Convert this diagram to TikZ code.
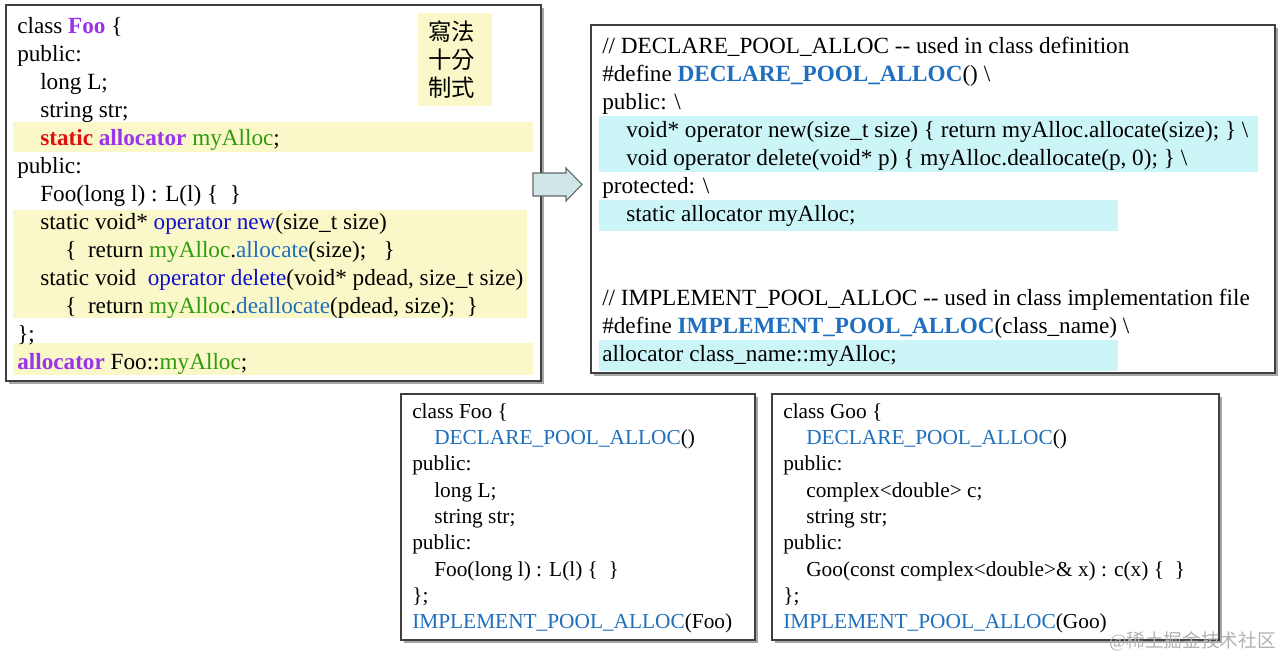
\documentclass[tikz,border=0pt]{standalone}
\usepackage{fontspec}
\setmainfont{Liberation Serif}
\newfontfamily\cjk{Noto Sans CJK TC}
\definecolor{hlY}{HTML}{FAF8C8}
\definecolor{hlC}{HTML}{CCF5F7}
\definecolor{cPur}{HTML}{9933EE}
\definecolor{cRed}{HTML}{E01010}
\definecolor{cGrn}{HTML}{2E9A10}
\definecolor{cOp}{HTML}{1010CC}
\definecolor{cBl}{HTML}{1F6FC0}
\definecolor{arr}{HTML}{CFE6E8}
\begin{document}
\begin{tikzpicture}[x=0.75pt,y=-0.75pt,
  t/.style={anchor=base west,inner sep=0pt,font=\fontsize{17.4}{20}\selectfont},
  ts/.style={anchor=base west,inner sep=0pt,font=\fontsize{16}{19}\selectfont},
  box/.style={draw=black!75,line width=1.2pt,fill=white},
  shadow/.style={fill=black!35,draw=none}]
\useasboundingbox (0,0) rectangle (1280,657);
% left box
\fill[shadow] (9,8) rectangle (544,384);
\draw[box] (6,5) rectangle (541,381);
\fill[hlY] (13,122) rectangle (533,152);
\fill[hlY] (13,210) rectangle (527,318);
\fill[hlY] (13,343) rectangle (533,375);
\fill[hlY] (418,13) rectangle (492,106);
\begin{scope}[every node/.style={anchor=base west,inner sep=0pt,font=\fontsize{17.5}{20}\selectfont}]
\node (c1) at (428,40) {\cjk 寫法};
\node (c2) at (428,68) {\cjk 十分};
\node (c3) at (428,96) {\cjk 制式};
\end{scope}
\node[t] (l1) at (17,33) {class \textcolor{cPur}{\textbf{Foo}} \{};
\node[t] (l2) at (17,61) {public:};
\node[t] (l3) at (40,89) {long L;};
\node[t] (l4) at (40,117) {string str;};
\node[t] (l5) at (40,145) {\textcolor{cRed}{\textbf{static}} \textcolor{cPur}{\textbf{allocator}} \textcolor{cGrn}{myAlloc};};
\node[t] (l6) at (17,173) {public:};
\node[t] (l7) at (40,201) {Foo(long l) : L(l) \{\ \ \}};
\node[t] (l8) at (40,229) {static void* \textcolor{cOp}{operator new}(size\_t size)};
\node[t] (l9) at (65,257) {\{\ \ return \textcolor{cGrn}{myAlloc}.\textcolor{cBl}{allocate}(size);\ \ \ \}};
\node[t] (l10) at (40,285) {static void\ \ \textcolor{cOp}{operator delete}(void* pdead, size\_t size)};
\node[t] (l11) at (65,313) {\{\ \ return \textcolor{cGrn}{myAlloc}.\textcolor{cBl}{deallocate}(pdead, size);\ \ \}};
\node[t] (l12) at (17,341) {\};};
\node[t] (l13) at (17,369) {\textcolor{cPur}{\textbf{allocator}} Foo::\textcolor{cGrn}{myAlloc};};
% arrow
\draw[draw=black!60,fill=arr,line width=0.8pt] (533,173) -- (566,173) -- (566,168) -- (582,184.5) -- (566,201) -- (566,196) -- (533,196) -- cycle;
% right box
\fill[shadow] (594,28) rectangle (1278,376);
\draw[box] (591,25) rectangle (1275,373);
\fill[hlC] (599,116) rectangle (1258,172);
\fill[hlC] (599,200) rectangle (1118,231);
\fill[hlC] (599,340) rectangle (1118,371);
\node[t] (r1) at (602,53) {// DECLARE\_POOL\_ALLOC -{}- used in class definition};
\node[t] (r2) at (602,81) {\#define \textcolor{cBl}{\textbf{DECLARE\_POOL\_ALLOC}}() \textbackslash};
\node[t] (r3) at (602,109) {public: \textbackslash};
\node[t] (r4) at (626,137) {void* operator new(size\_t size) \{ return myAlloc.allocate(size); \} \textbackslash};
\node[t] (r5) at (626,165) {void operator delete(void* p) \{ myAlloc.deallocate(p, 0); \} \textbackslash};
\node[t] (r6) at (602,193) {protected: \textbackslash};
\node[t] (r7) at (626,221) {static allocator myAlloc;};
\node[t] (r8) at (602,305) {// IMPLEMENT\_POOL\_ALLOC -{}- used in class implementation file};
\node[t] (r9) at (602,333) {\#define \textcolor{cBl}{\textbf{IMPLEMENT\_POOL\_ALLOC}}(class\_name) \textbackslash};
\node[t] (r10) at (602,361) {allocator class\_name::myAlloc;};
% bottom boxes
\fill[shadow] (404,397) rectangle (758,643);
\draw[box] (401,394) rectangle (755,640);
\fill[shadow] (775,397) rectangle (1222,643);
\draw[box] (772,394) rectangle (1219,640);
\node[ts] (f1) at (412,418) {class Foo \{};
\node[ts] (f2) at (434,444) {\textcolor{cBl}{DECLARE\_POOL\_ALLOC}()};
\node[ts] (f3) at (412,470) {public:};
\node[ts] (f4) at (434,497) {long L;};
\node[ts] (f5) at (434,523) {string str;};
\node[ts] (f6) at (412,549) {public:};
\node[ts] (f7) at (434,576) {Foo(long l) : L(l) \{\ \ \}};
\node[ts] (f8) at (412,602) {\};};
\node[ts] (f9) at (412,628) {\textcolor{cBl}{IMPLEMENT\_POOL\_ALLOC}(Foo)};
\node[ts] (g1) at (783,418) {class Goo \{};
\node[ts] (g2) at (806,444) {\textcolor{cBl}{DECLARE\_POOL\_ALLOC}()};
\node[ts] (g3) at (783,470) {public:};
\node[ts] (g4) at (806,497) {complex<double> c;};
\node[ts] (g5) at (806,523) {string str;};
\node[ts] (g6) at (783,549) {public:};
\node[ts] (g7) at (806,576) {Goo(const complex<double>\& x) : c(x) \{\ \ \}};
\node[ts] (g8) at (783,602) {\};};
\node[ts] (g9) at (783,628) {\textcolor{cBl}{IMPLEMENT\_POOL\_ALLOC}(Goo)};
\node[anchor=base east,inner sep=0pt,text=black!30,font=\fontsize{14}{16}\selectfont] (wm) at (1276,647) {@\cjk 稀土掘金技术社区};
\end{tikzpicture}
\end{document}
